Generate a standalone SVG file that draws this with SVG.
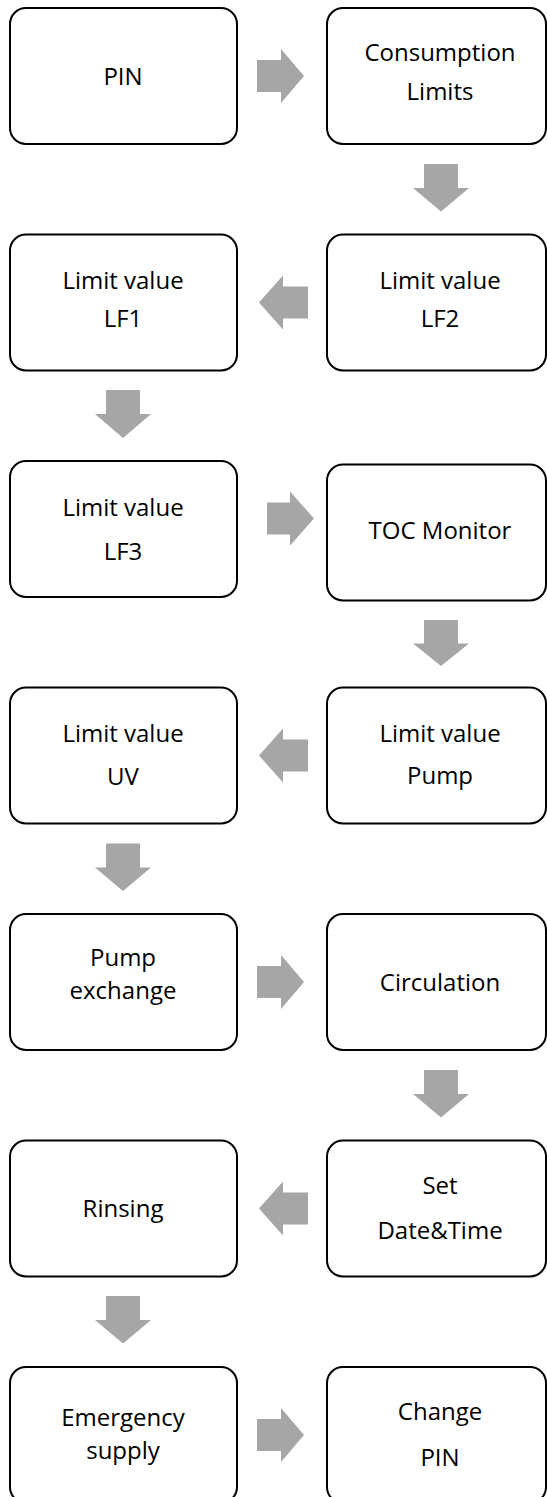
<svg xmlns="http://www.w3.org/2000/svg" width="547" height="1497" viewBox="0 0 547 1497">
<style>
.box{fill:#fff;stroke:#000;stroke-width:2}
.lbl{font-family:"Open Sans","Liberation Sans",sans-serif;font-size:24px;fill:#000;text-anchor:middle}
.arr{fill:#a6a6a6;stroke:none}
</style>
<rect width="547" height="1497" fill="#fff"/>
<g id="connectors">
<polygon class="arr" points="257,60 281,60 281,49 304,76 281,103 281,92 257,92"/>
<polygon class="arr" points="424,164 458,164 458,188 469,188 441,211.5 413,188 424,188"/>
<polygon class="arr" points="308,286.5 283,286.5 283,275.5 259,302.5 283,329.5 283,318.5 308,318.5"/>
<polygon class="arr" points="106,390 140,390 140,414 151,414 123,438 95,414 106,414"/>
<polygon class="arr" points="267,502.5 290,502.5 290,491.5 314,518.5 290,545.5 290,534.5 267,534.5"/>
<polygon class="arr" points="424,620 458,620 458,643.5 469,643.5 441,666 413,643.5 424,643.5"/>
<polygon class="arr" points="308,739.5 283,739.5 283,728.5 259,755.5 283,782.5 283,771.5 308,771.5"/>
<polygon class="arr" points="106,843.5 140,843.5 140,867.5 151,867.5 123,891 95,867.5 106,867.5"/>
<polygon class="arr" points="257,966 281,966 281,955 304,982 281,1009 281,998 257,998"/>
<polygon class="arr" points="424,1070 458,1070 458,1094 469,1094 441,1117.5 413,1094 424,1094"/>
<polygon class="arr" points="308,1192.5 283,1192.5 283,1181.5 259,1208.5 283,1235.5 283,1224.5 308,1224.5"/>
<polygon class="arr" points="106,1296 140,1296 140,1320 151,1320 123,1343.5 95,1320 106,1320"/>
<polygon class="arr" points="257,1419 281,1419 281,1408 304,1435 281,1462 281,1451 257,1451"/>
</g>
<g id="n-pin"><rect class="box" x="10" y="8" width="227" height="136" rx="16"/><text class="lbl" x="123" y="85">PIN</text></g>
<g id="n-consumption"><rect class="box" x="327" y="8" width="219" height="136" rx="16"/><text class="lbl" x="440" y="61">Consumption</text><text class="lbl" x="440" y="100">Limits</text></g>
<g id="n-lf1"><rect class="box" x="10" y="234.5" width="227" height="136" rx="16"/><text class="lbl" x="123" y="288.5">Limit value</text><text class="lbl" x="123" y="327">LF1</text></g>
<g id="n-lf2"><rect class="box" x="327" y="234.5" width="219" height="136" rx="16"/><text class="lbl" x="440" y="288.5">Limit value</text><text class="lbl" x="440" y="327">LF2</text></g>
<g id="n-lf3"><rect class="box" x="10" y="461" width="227" height="136" rx="16"/><text class="lbl" x="123" y="516">Limit value</text><text class="lbl" x="123" y="560">LF3</text></g>
<g id="n-toc"><rect class="box" x="327" y="464.5" width="219" height="136" rx="16"/><text class="lbl" x="440" y="539">TOC Monitor</text></g>
<g id="n-uv"><rect class="box" x="10" y="687.5" width="227" height="136" rx="16"/><text class="lbl" x="123" y="742">Limit value</text><text class="lbl" x="123" y="784.5">UV</text></g>
<g id="n-pump"><rect class="box" x="327" y="687.5" width="219" height="136" rx="16"/><text class="lbl" x="440" y="742">Limit value</text><text class="lbl" x="440" y="784">Pump</text></g>
<g id="n-pumpex"><rect class="box" x="10" y="914" width="227" height="136" rx="16"/><text class="lbl" x="123" y="966">Pump</text><text class="lbl" x="123" y="999">exchange</text></g>
<g id="n-circ"><rect class="box" x="327" y="914" width="219" height="136" rx="16"/><text class="lbl" x="440" y="991">Circulation</text></g>
<g id="n-rinsing"><rect class="box" x="10" y="1140.5" width="227" height="136" rx="16"/><text class="lbl" x="123" y="1217">Rinsing</text></g>
<g id="n-datetime"><rect class="box" x="327" y="1140.5" width="219" height="136" rx="16"/><text class="lbl" x="440" y="1194">Set</text><text class="lbl" x="440" y="1238.5">Date&amp;Time</text></g>
<g id="n-emergency"><rect class="box" x="10" y="1367" width="227" height="136" rx="16"/><text class="lbl" x="123" y="1426">Emergency</text><text class="lbl" x="123" y="1459">supply</text></g>
<g id="n-changepin"><rect class="box" x="327" y="1367" width="219" height="136" rx="16"/><text class="lbl" x="440" y="1420">Change</text><text class="lbl" x="440" y="1466">PIN</text></g>
</svg>
